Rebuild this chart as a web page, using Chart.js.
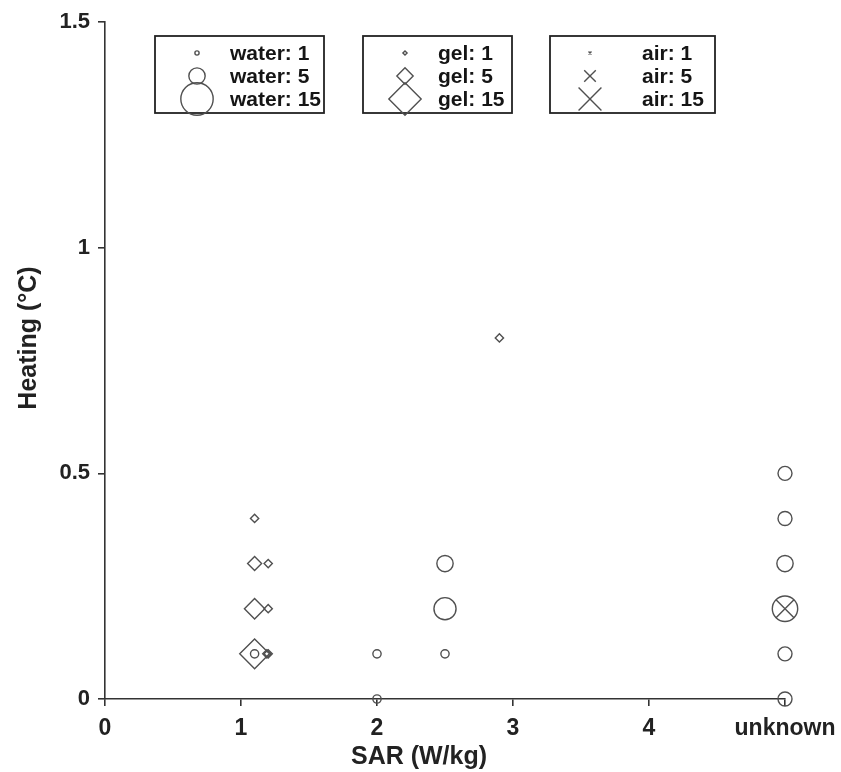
<!DOCTYPE html>
<html>
<head>
<meta charset="utf-8">
<script src="https://cdn.jsdelivr.net/npm/chart.js@4.4.1/dist/chart.umd.min.js"></script>
<style>
  html, body { margin: 0; padding: 0; background: #ffffff; }
  #wrap { width: 841px; height: 772px; }
</style>
</head>
<body>
<div id="wrap"><canvas id="c" width="841" height="772"></canvas></div>
<script>
// ---- data ----
const xTickLabels = ['0', '1', '2', '3', '4', 'unknown'];
const yTickLabels = ['0', '0.5', '1', '1.5'];

const waterX = [1.1, 2.0, 2.0, 2.5, 2.5, 2.5, 5, 5, 5, 5, 5, 5];
const waterY = [0.1, 0.1, 0.0, 0.3, 0.2, 0.1, 0.5, 0.4, 0.3, 0.2, 0.1, 0.0];
const waterN = [2, 2, 2, 5, 8, 2, 4, 4, 5, 10, 4, 4];

const gelX = [1.1, 1.1, 1.2, 1.1, 1.2, 1.1, 1.2, 1.19, 2.9];
const gelY = [0.4, 0.3, 0.3, 0.2, 0.2, 0.1, 0.1, 0.1, 0.8];
const gelN = [2, 4, 2, 7, 2, 13, 2, 2, 2];

const airX = [5];
const airY = [0.2];
const airN = [10];

const legendCounts = [1, 5, 15];
const legendGroups = ['water', 'gel', 'air'];

// ---- helpers ----
function radiusFor(n) { return Math.max(1.5, 4.9 * Math.sqrt(n) - 2.8); }
function pts(xs, ys) { return xs.map((x, i) => ({ x: x, y: ys[i] })); }

const MARK = '#505050';
const AXIS = '#333333';
const FONT = '"Liberation Sans", Arial, Helvetica, sans-serif';

function drawMarker(ctx, style, x, y, r) {
  ctx.beginPath();
  if (style === 'circle') {
    ctx.arc(x, y, r, 0, Math.PI * 2);
  } else if (style === 'rectRot') {
    ctx.moveTo(x - r, y); ctx.lineTo(x, y - r); ctx.lineTo(x + r, y); ctx.lineTo(x, y + r); ctx.closePath();
  } else {
    const o = r * Math.SQRT1_2;
    ctx.moveTo(x - o, y - o); ctx.lineTo(x + o, y + o);
    ctx.moveTo(x + o, y - o); ctx.lineTo(x - o, y + o);
  }
  ctx.stroke();
}

const overlay = {
  id: 'overlay',
  afterDraw(chart) {
    const ctx = chart.ctx;
    ctx.save();
    // axis titles
    ctx.fillStyle = '#222';
    ctx.font = 'bold 25px ' + FONT;
    ctx.textAlign = 'center';
    ctx.textBaseline = 'alphabetic';
    ctx.fillText('SAR (W/kg)', 419, 764);
    ctx.save();
    ctx.translate(36, 338);
    ctx.rotate(-Math.PI / 2);
    ctx.fillText('Heating (\u00B0C)', 0, 0);
    ctx.restore();

    // legend boxes
    const boxes = [
      { left: 155, right: 324, marker: 197, text: 230, style: 'circle' },
      { left: 363, right: 512, marker: 405, text: 438, style: 'rectRot' },
      { left: 550, right: 715, marker: 590, text: 642, style: 'crossRot' }
    ];
    const rows = [53, 76, 99];
    boxes.forEach((b, gi) => {
      ctx.strokeStyle = '#222';
      ctx.lineWidth = 1.8;
      ctx.strokeRect(b.left, 36, b.right - b.left, 77);
      ctx.strokeStyle = MARK;
      ctx.lineWidth = 1.4;
      legendCounts.forEach((n, ri) => {
        drawMarker(ctx, b.style, b.marker, rows[ri], radiusFor(n));
      });
      ctx.fillStyle = '#151515';
      ctx.font = 'bold 21px ' + FONT;
      ctx.textAlign = 'left';
      ctx.textBaseline = 'middle';
      legendCounts.forEach((n, ri) => {
        ctx.fillText(legendGroups[gi] + ': ' + n, b.text, rows[ri] + 1);
      });
    });
    ctx.restore();
  }
};

const dsCommon = {
  showLine: false,
  clip: false,
  backgroundColor: 'rgba(0,0,0,0)',
  borderColor: MARK,
  pointBorderColor: MARK,
  pointBackgroundColor: 'rgba(0,0,0,0)',
  pointBorderWidth: 1.4
};

new Chart(document.getElementById('c'), {
  type: 'scatter',
  data: {
    datasets: [
      Object.assign({}, dsCommon, {
        label: 'water', data: pts(waterX, waterY), pointStyle: 'circle',
        pointRadius: c => radiusFor(waterN[c.dataIndex]),
        pointHoverRadius: c => radiusFor(waterN[c.dataIndex])
      }),
      Object.assign({}, dsCommon, {
        label: 'gel', data: pts(gelX, gelY), pointStyle: 'rectRot',
        pointRadius: c => radiusFor(gelN[c.dataIndex]),
        pointHoverRadius: c => radiusFor(gelN[c.dataIndex])
      }),
      Object.assign({}, dsCommon, {
        label: 'air', data: pts(airX, airY), pointStyle: 'crossRot',
        pointRadius: c => radiusFor(airN[c.dataIndex]),
        pointHoverRadius: c => radiusFor(airN[c.dataIndex])
      })
    ]
  },
  options: {
    responsive: false,
    animation: false,
    devicePixelRatio: 1,
    layout: { padding: { top: 22, right: 56, left: 0, bottom: 0 } },
    plugins: { legend: { display: false }, tooltip: { enabled: false } },
    events: [],
    scales: {
      x: {
        type: 'linear', min: 0, max: 5,
        afterFit: s => { s.height = 73; s.paddingLeft = 0; s.paddingRight = 0; },
        border: { display: true, color: AXIS, width: 1.6 },
        grid: { drawOnChartArea: false, drawTicks: true, tickLength: 7, color: AXIS, lineWidth: 1.6 },
        ticks: {
          stepSize: 1, padding: 9, color: '#222', maxRotation: 0, autoSkip: false,
          font: { family: FONT, size: 23, weight: 'bold' },
          callback: (v, i) => xTickLabels[i]
        }
      },
      y: {
        type: 'linear', min: 0, max: 1.5,
        afterFit: s => { s.width = 105; s.paddingTop = 0; s.paddingBottom = 0; },
        border: { display: true, color: AXIS, width: 1.6 },
        grid: { drawOnChartArea: false, drawTicks: true, tickLength: 7, color: AXIS, lineWidth: 1.6 },
        ticks: {
          stepSize: 0.5, padding: 8, color: '#222', autoSkip: false,
          font: { family: FONT, size: 22, weight: 'bold' },
          callback: (v, i) => yTickLabels[i]
        }
      }
    }
  },
  plugins: [overlay]
});
</script>
</body>
</html>
